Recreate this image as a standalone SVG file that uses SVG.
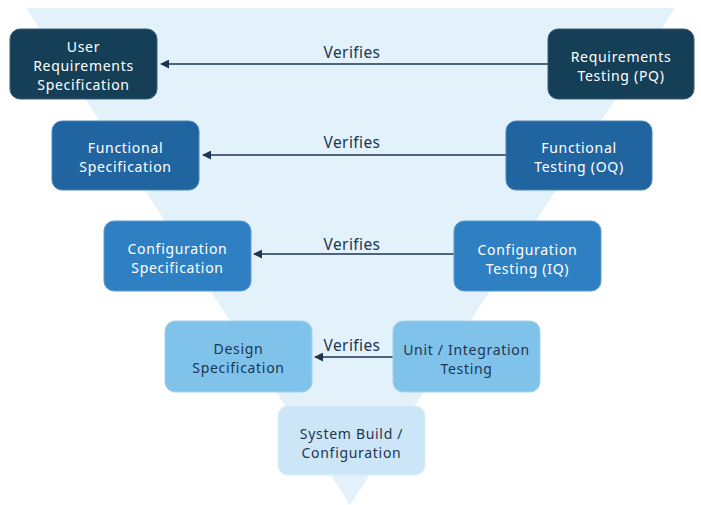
<svg xmlns="http://www.w3.org/2000/svg" width="701" height="505" viewBox="0 0 701 505">
  <style>
    text { font-family: "Noto Sans", "Open Sans", "DejaVu Sans", sans-serif; font-size: 14px; letter-spacing: 0.7px; text-anchor: middle; }
    .light { fill: #ffffff; }
    .dark { fill: #1c3553; }
    .lbl { fill: #1c3553; font-size: 15.5px; letter-spacing: 0.4px; }
    .edge { stroke: #1c3553; stroke-width: 1.5; fill: none; marker-end: url(#arrow); }
    .box { stroke-width: 1; }
  </style>
  <defs>
    <marker id="arrow" viewBox="0 0 10 10" refX="9" refY="5" markerWidth="9" markerHeight="9" markerUnits="userSpaceOnUse" orient="auto">
      <path d="M0,0 L10,5 L0,10 z" fill="#1c3553"/>
    </marker>
  </defs>

  <rect width="701" height="505" fill="#ffffff"/>
  <!-- funnel background -->
  <polygon points="26,8 675,8 350,505" fill="#e3f2fa"/>

  <g id="connectors">
    <line class="edge" x1="548" y1="64" x2="161" y2="64"/>
    <text class="lbl" x="352" y="58">Verifies</text>
    <line class="edge" x1="506" y1="155" x2="203" y2="155"/>
    <text class="lbl" x="352" y="148">Verifies</text>
    <line class="edge" x1="454" y1="254" x2="254" y2="254"/>
    <text class="lbl" x="352" y="250">Verifies</text>
    <line class="edge" x1="393" y1="357" x2="315" y2="357"/>
    <text class="lbl" x="352" y="351">Verifies</text>
  </g>

  <g id="user-requirements-spec">
    <rect class="box" x="10" y="29" width="147" height="70" rx="10" fill="#153f57" stroke="#3a5f77"/>
    <text class="light" x="83.5" y="52">User</text>
    <text class="light" x="83.5" y="71">Requirements</text>
    <text class="light" x="83.5" y="90">Specification</text>
  </g>
  <g id="requirements-testing">
    <rect class="box" x="548" y="29" width="146" height="70" rx="10" fill="#153f57" stroke="#3a5f77"/>
    <text class="light" x="621" y="61.5">Requirements</text>
    <text class="light" x="621" y="80.5">Testing (PQ)</text>
  </g>

  <g id="functional-spec">
    <rect class="box" x="52" y="121" width="147" height="69" rx="10" fill="#2165a0" stroke="#4a85b8"/>
    <text class="light" x="125.5" y="152.5">Functional</text>
    <text class="light" x="125.5" y="171.5">Specification</text>
  </g>
  <g id="functional-testing">
    <rect class="box" x="506" y="121" width="146" height="69" rx="10" fill="#2165a0" stroke="#4a85b8"/>
    <text class="light" x="579" y="152.5">Functional</text>
    <text class="light" x="579" y="171.5">Testing (OQ)</text>
  </g>

  <g id="configuration-spec">
    <rect class="box" x="104" y="221" width="147" height="70" rx="10" fill="#2e80c2" stroke="#5a9bd0"/>
    <text class="light" x="177.5" y="253.5">Configuration</text>
    <text class="light" x="177.5" y="272.5">Specification</text>
  </g>
  <g id="configuration-testing">
    <rect class="box" x="454" y="221" width="147" height="70" rx="10" fill="#2e80c2" stroke="#5a9bd0"/>
    <text class="light" x="527.5" y="254.5">Configuration</text>
    <text class="light" x="527.5" y="273.5">Testing (IQ)</text>
  </g>

  <g id="design-spec">
    <rect class="box" x="165" y="321" width="147" height="71" rx="10" fill="#80c3ea" stroke="#9fd2ef"/>
    <text class="dark" x="238.5" y="353.5">Design</text>
    <text class="dark" x="238.5" y="372.5">Specification</text>
  </g>
  <g id="unit-integration-testing">
    <rect class="box" x="393" y="321" width="147" height="71" rx="10" fill="#80c3ea" stroke="#9fd2ef"/>
    <text class="dark" x="466.5" y="354.5">Unit / Integration</text>
    <text class="dark" x="466.5" y="373.5">Testing</text>
  </g>

  <g id="system-build">
    <rect class="box" x="278" y="406" width="147" height="69" rx="10" fill="#cce6f7" stroke="#dbeefa"/>
    <text class="dark" x="351.5" y="438.5">System Build /</text>
    <text class="dark" x="351.5" y="457.5">Configuration</text>
  </g>
</svg>
